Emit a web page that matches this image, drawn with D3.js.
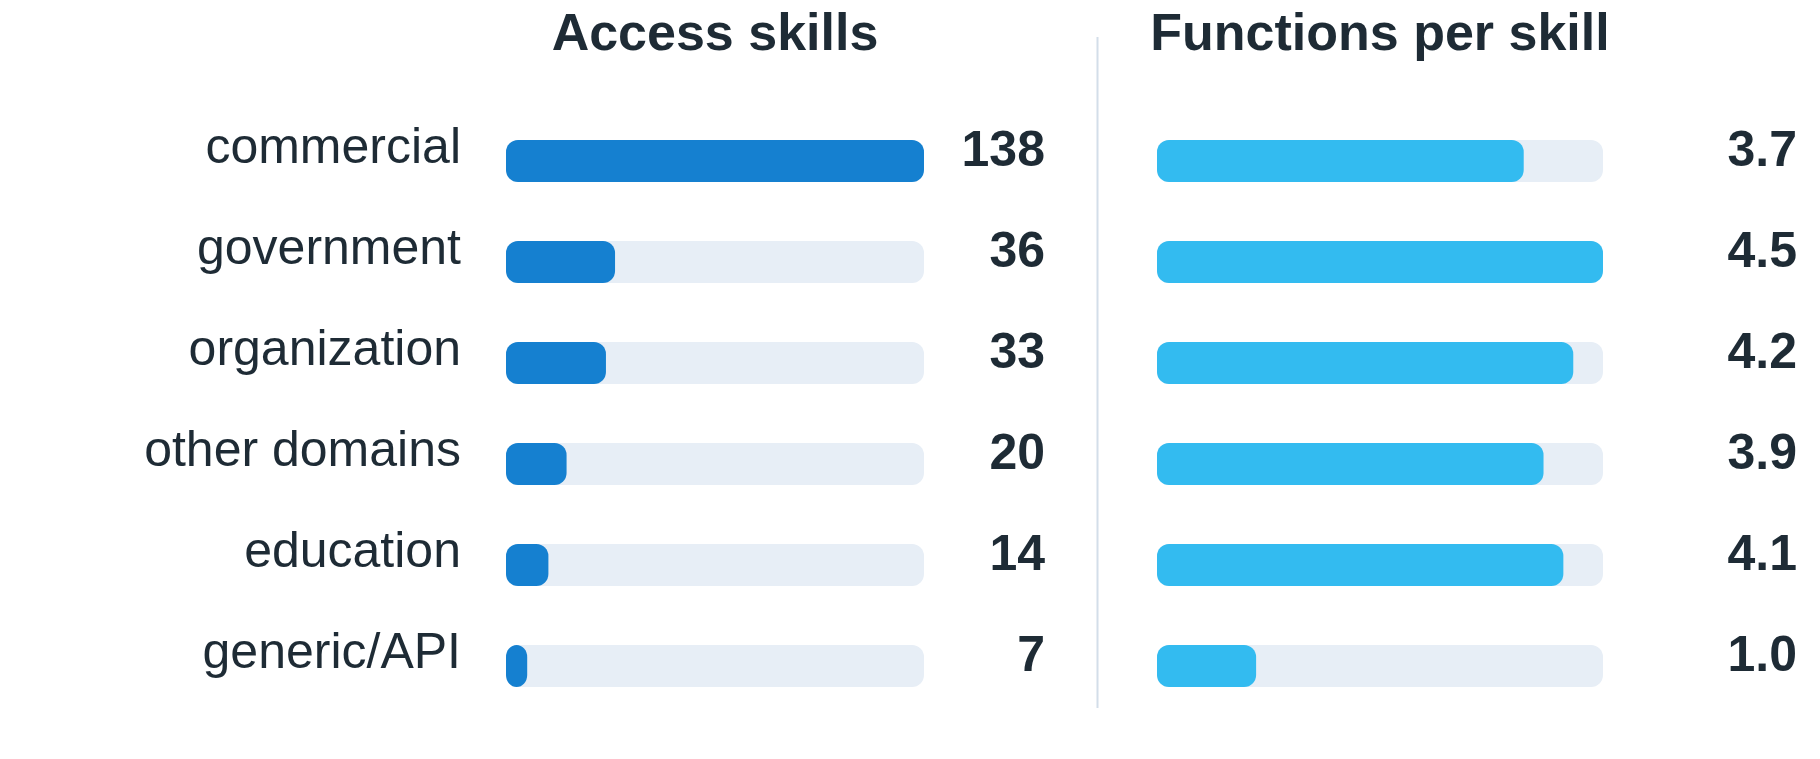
<!DOCTYPE html>
<html>
<head>
<meta charset="utf-8">
<script src="https://cdn.jsdelivr.net/npm/d3@7"></script>
<style>
  html, body { margin: 0; padding: 0; background: #ffffff; }
  svg { display: block; }
  text { font-family: "Liberation Sans", Arial, Helvetica, sans-serif; fill: #1e2b35; }
</style>
</head>
<body>
<svg id="chart" width="1820" height="759"></svg>
<script>
const categories = ["commercial", "government", "organization", "other domains", "education", "generic/API"];
const accessSkills = [138, 36, 33, 20, 14, 7];
const functionsPerSkill = [3.7, 4.5, 4.2, 3.9, 4.1, 1.0];
const panelTitles = ["Access skills", "Functions per skill"];

const svg = d3.select("#chart");
const W = 1820, H = 759;

const y = d3.scalePoint().domain(categories).range([161, 666]);
const barH = 42;
const radius = 12;

const xLeft = d3.scaleLinear().domain([0, d3.max(accessSkills)]).range([506, 924]);
const xRight = d3.scaleLinear().domain([0, d3.max(functionsPerSkill)]).range([1157, 1603]);

// Divider
svg.append("line")
  .attr("x1", 1097.5).attr("x2", 1097.5)
  .attr("y1", 37).attr("y2", 708)
  .attr("stroke", "#d3dee9").attr("stroke-width", 2);

// Titles
svg.append("text")
  .attr("x", (xLeft.range()[0] + xLeft.range()[1]) / 2)
  .attr("y", 50)
  .attr("text-anchor", "middle")
  .style("font-size", "52px").style("font-weight", "bold")
  .text(panelTitles[0]);
svg.append("text")
  .attr("x", (xRight.range()[0] + xRight.range()[1]) / 2)
  .attr("y", 50)
  .attr("text-anchor", "middle")
  .style("font-size", "52px").style("font-weight", "bold")
  .text(panelTitles[1]);

// Category labels
svg.append("g").selectAll("text").data(categories).join("text")
  .attr("x", 461)
  .attr("y", d => y(d) + 2)
  .attr("text-anchor", "end")
  .style("font-size", "50px")
  .text(d => d);

function drawPanel(values, x, color, fmt, labelX) {
  const g = svg.append("g");
  const rows = g.selectAll("g.row").data(values.map((v, i) => ({ v, c: categories[i] })))
    .join("g").attr("class", "row");
  rows.append("rect")
    .attr("x", x(0))
    .attr("y", d => y(d.c) - barH / 2)
    .attr("width", x.range()[1] - x(0))
    .attr("height", barH)
    .attr("rx", radius).attr("ry", radius)
    .attr("fill", "#e7eef6");
  rows.append("rect")
    .attr("x", x(0))
    .attr("y", d => y(d.c) - barH / 2)
    .attr("width", d => x(d.v) - x(0))
    .attr("height", barH)
    .attr("rx", d => Math.min(radius, (x(d.v) - x(0)) / 2))
    .attr("ry", radius)
    .attr("fill", color);
  rows.append("text")
    .attr("x", labelX)
    .attr("y", d => y(d.c) + 5)
    .attr("text-anchor", "end")
    .style("font-size", "50px").style("font-weight", "bold")
    .text(d => fmt(d.v));
}

drawPanel(accessSkills, xLeft, "#1580d0", d3.format("d"), 1045);
drawPanel(functionsPerSkill, xRight, "#33bbf0", d3.format(".1f"), 1797);
</script>
</body>
</html>
